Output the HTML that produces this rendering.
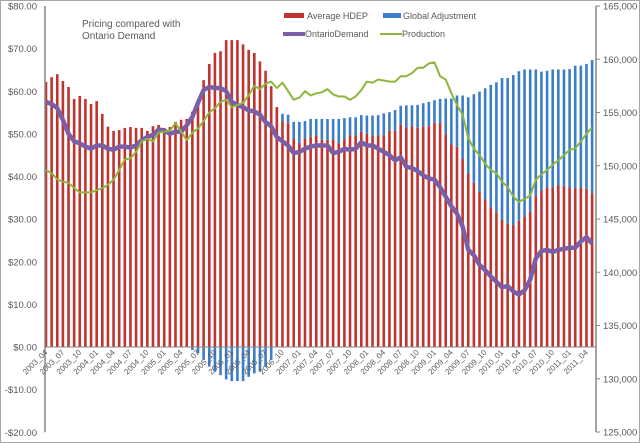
<!DOCTYPE html>
<html><head><meta charset="utf-8"><style>
html,body{margin:0;padding:0;background:#fff;}
svg{display:block;font-family:"Liberation Sans",sans-serif;}
</style></head><body>
<svg id="chart" width="640" height="443" viewBox="0 0 640 443" xmlns="http://www.w3.org/2000/svg">
<rect x="0.5" y="0.5" width="639" height="442" fill="#fff" stroke="#a6a6a6"/>
<g id="bars"></g>
<g id="lines"></g>
<g id="axes"></g>
<text x="82" y="27" font-size="10" fill="#595959">Pricing compared with</text>
<text x="82" y="39" font-size="10" fill="#595959">Ontario Demand</text>
<g font-size="9" fill="#595959">
<g><rect x="284" y="13" width="20" height="5" fill="#c0332e"/><text x="307" y="19">Average HDEP</text></g>
<g><rect x="383" y="13" width="18" height="5" fill="#3b7dc8"/><text x="403" y="19">Global Adjustment</text></g>
<g><line x1="283" y1="34" x2="305" y2="34" stroke="#7a5fa6" stroke-width="4"/><text x="305" y="37">OntarioDemand</text></g>
<g><line x1="380" y1="34" x2="402" y2="34" stroke="#8db63c" stroke-width="2"/><text x="402" y="37">Production</text></g>
</g>
</svg>
<script>
const hdep = [62.2,63.3,64,62.4,61,58.2,58.9,58.2,57,57.7,54.7,51.7,50.7,50.9,51.4,51.6,51.4,51.4,50.7,51.8,52.1,51.4,51.6,52.8,
53.3,53.5,55.2,58,62.6,66.4,69,69.4,72,72,72,71,69.7,69,67,64.8,61.2,56.3,53,52.5,48.8,47.9,48.8,49.3,49.5,
48.6,48.6,48.7,47.8,48.7,49.7,49.5,50.5,50.0,49.5,49.7,49.7,50.7,50.7,52.1,51.5,51.7,51.4,51.8,51.8,52.6,52.5,49.9,47.6,47.0,44.1,
40.7,38.5,36.4,34.7,32.8,31.6,29.8,28.9,28.6,29.6,30.6,31.7,35.3,36.7,37.4,37.5,38.0,37.8,37.4,37.2,37.4,37.1,36.1];
const globalAdj = [0,0,0,0,0,0,0,0,0,0,0,0,0,0,0,0,0,0,0,0,0,0,0,0,0,0,
-0.7,-1.5,-3,-4.6,-5.8,-6.6,-7.6,-8,-8,-8,-7,-6.2,-5.8,-4.6,-3,
0,
1.7,2,4,4.9,4.2,4.2,4,
4.9,4.9,4.8,5.7,5.0,4.2,4.4,3.9,4.3,4.8,4.7,5.1,4.4,4.9,4.5,5.2,5.0,5.4,5.4,5.7,5.3,5.7,8.4,10.7,12.0,14.9,
17.9,20.8,23.5,26.0,28.7,30.5,33.3,34.2,35.2,35.1,34.5,33.4,29.8,27.9,27.4,27.6,27.1,27.3,27.8,28.8,28.6,29.3,31.2];
const demand = [156.0,155.8,155.4,154.3,153.0,152.3,152.1,151.8,151.6,151.9,151.9,151.6,151.5,151.8,151.8,151.7,151.9,152.4,152.7,152.9,153.4,153.3,153.0,153.2,
153.2,153.8,154.6,155.9,157.1,157.4,157.3,157.3,157.0,156.0,155.7,155.5,155.2,155.1,154.8,154.1,153.7,152.7,152.3,151.9,151.2,151.3,151.6,151.8,151.9,
151.9,151.9,151.2,151.3,151.6,151.5,151.6,152.2,151.9,151.9,151.6,151.3,151.0,150.5,150.8,149.9,149.8,149.5,149.1,148.8,148.7,148.0,147.1,146.2,145.5,144.3,
142.1,141.6,140.7,140.2,139.6,139.1,138.6,138.7,138.2,137.9,138.3,139.3,141.3,142.0,142.1,141.9,142.1,142.2,142.3,142.3,142.9,143.3,142.7];
const production = [149.6,149.3,148.7,148.5,148.4,147.9,147.5,147.5,147.5,147.7,147.9,148.2,148.7,149.6,150.6,150.7,151.3,152.3,152.5,152.3,153.1,153.2,153.3,154.0,
153.2,152.4,153.1,153.5,154.2,155.0,155.4,156.0,156.2,155.5,155.7,155.9,156.6,157.5,157.2,157.7,157.9,157.3,157.8,157.0,156.2,156.4,157.0,156.6,156.8,
156.9,157.2,156.7,156.5,156.5,156.2,156.5,157.1,157.9,157.8,158.1,158.0,157.9,157.9,158.4,158.4,158.7,159.2,159.2,159.6,159.7,158.4,158.1,156.8,155.7,154.8,
152.6,151.6,151.0,150.2,149.6,149.3,148.5,148.0,147.1,146.6,146.9,147.2,148.7,149.2,149.6,150.1,150.5,151.0,151.5,151.6,152.3,153.0,153.6];
const tickLabels = ["2003_04","2003_07","2003_10","2004_01","2004_04","2004_07","2004_10","2005_01","2005_04","2005_07","2005_10","2006_01","2006_04","2006_07","2006_10","2007_01","2007_04","2007_07","2007_10","2008_01","2008_04","2008_07","2008_10","2009_01","2009_04","2009_07","2009_10","2010_01","2010_04","2010_07","2010_10","2011_01","2011_04"];
const leftTicks = [80,70,60,50,40,30,20,10,0,-10,-20];
const rightTicks = [165,160,155,150,145,140,135,130,125];

const NS = "http://www.w3.org/2000/svg";
const xS = i => 46 + i * 5.63;
const yL = p => 347 - p * 4.2625;
const yR = v => 6 + (165 - v) * 10.65;
function mk(tag, attrs, parent) {
  const e = document.createElementNS(NS, tag);
  for (const k in attrs) e.setAttribute(k, attrs[k]);
  parent.appendChild(e);
  return e;
}
const bars = document.getElementById("bars");
const lines = document.getElementById("lines");
const axes = document.getElementById("axes");

hdep.forEach((v, i) => {
  const r = mk("rect", {x: xS(i) - 1.3, y: Math.min(yL(v), yL(0)), width: 2.6, height: Math.abs(yL(0) - yL(v)), fill: "#c0332e"}, bars);
  
  
  const g = globalAdj[i];
  if (g !== 0) {
    const base = g > 0 ? v : 0;
    const top = base + g;
    const b = mk("rect", {x: xS(i) - 1.3, y: Math.min(yL(base), yL(top)), width: 2.6, height: Math.abs(yL(top) - yL(base)), fill: "#3b7dc8"}, bars);
    
    
  }
});

const dPts = demand.map((v, i) => xS(i).toFixed(1) + "," + yR(v).toFixed(1)).join(" ");
const dl = mk("polyline", {points: dPts, fill: "none", stroke: "#7a5fa6", "stroke-width": 4.5, "stroke-linejoin": "round"}, lines);


const pPts = production.map((v, i) => xS(i).toFixed(1) + "," + yR(v).toFixed(1)).join(" ");
const pl = mk("polyline", {points: pPts, fill: "none", stroke: "#8db63c", "stroke-width": 2, "stroke-linejoin": "round"}, lines);



const la = mk("line", {x1: 45, y1: yL(80), x2: 45, y2: yL(-20), stroke: "#868686", "stroke-width": 1.5}, axes);


const ra = mk("line", {x1: 596, y1: yR(165), x2: 596, y2: yR(125), stroke: "#868686", "stroke-width": 1.5}, axes);


const zl = mk("line", {x1: 45, y1: yL(0), x2: 596, y2: yL(0), stroke: "#868686", "stroke-width": 1}, axes);



leftTicks.forEach(t => {
  const s = (t < 0 ? "-$" : "$") + Math.abs(t).toFixed(2);
  const tx = mk("text", {x: 37, y: yL(t) + 3.5, "text-anchor": "end", "font-size": 9.5, fill: "#595959"}, axes);
  tx.textContent = s;
  
  
});
rightTicks.forEach(t => {
  const tk = mk("line", {x1: 596, y1: yR(t), x2: 600, y2: yR(t), stroke: "#868686"}, axes);
  
  
  const tx = mk("text", {x: 603, y: yR(t) + 3.5, "font-size": 9.5, fill: "#595959"}, axes);
  tx.textContent = t + ",000";
  
  
});
tickLabels.forEach((lab, k) => {
  const x = xS(k * 3) + 2, y = 353;
  const tx = mk("text", {x: x, y: y, "text-anchor": "end", "font-size": 8, fill: "#595959", transform: "rotate(-45 " + x + " " + y + ")"}, axes);
  tx.textContent = lab;
  
  
});
</script>
</body></html>
